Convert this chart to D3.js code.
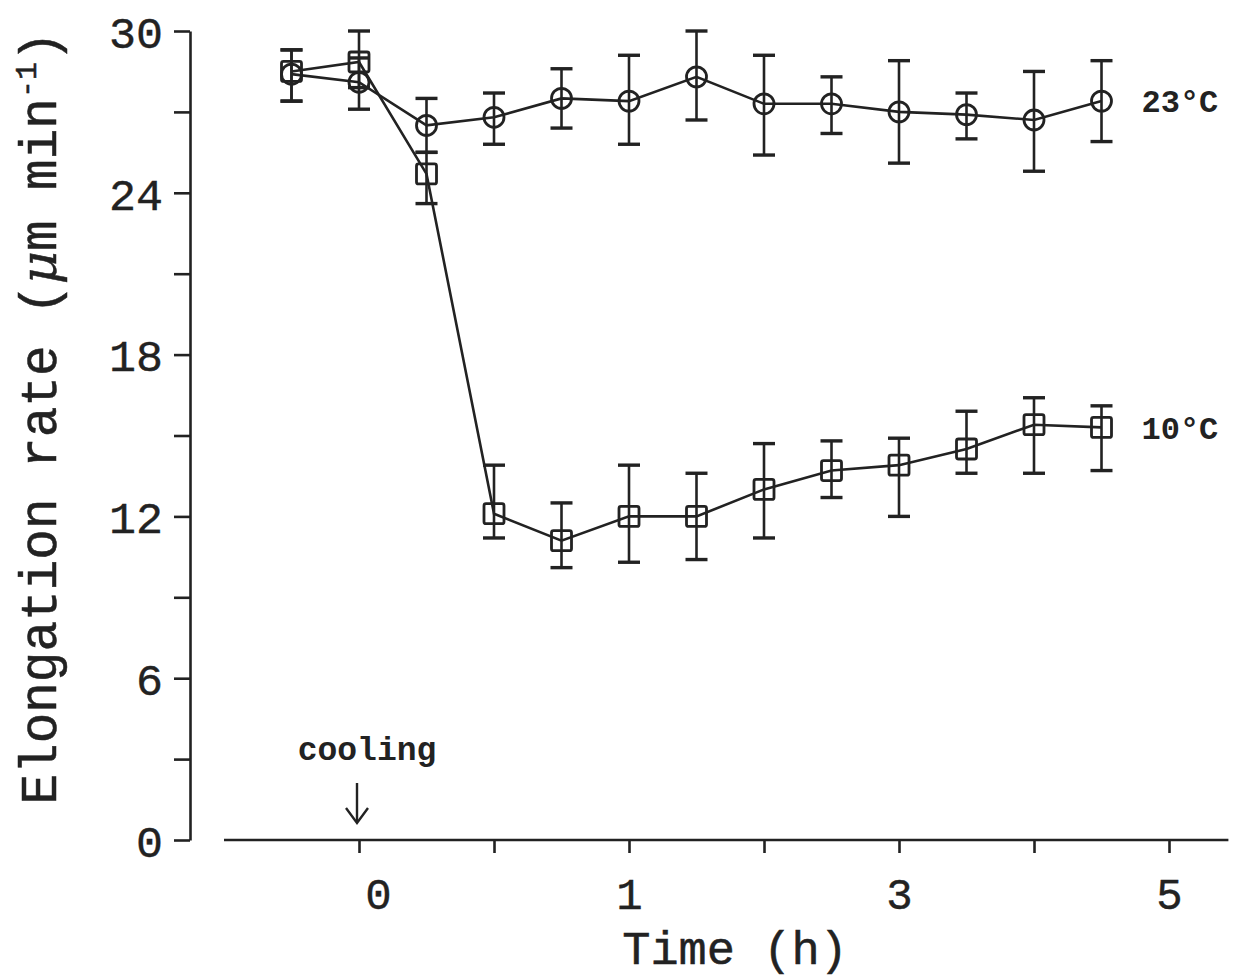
<!DOCTYPE html>
<html>
<head>
<meta charset="utf-8">
<script src="https://cdn.jsdelivr.net/npm/d3@7"></script>
<style>
  body { margin: 0; background: #fff; }
  text { font-family: "Liberation Mono", "Courier New", monospace; fill: #222; }
</style>
</head>
<body>
<svg id="chart" width="1238" height="979"></svg>
<script>
// time in half-hour tick steps (tick 0 = cooling)
const times = [-0.5, 0, 0.5, 1, 1.5, 2, 2.5, 3, 3.5, 4, 4.5, 5, 5.5];

// 23 C control
const warm   = [28.4, 28.1, 26.5, 26.8, 27.5, 27.4, 28.3, 27.3, 27.3, 27.0, 26.9, 26.7, 27.4];
const warmLo = [27.4, 27.1, 25.5, 25.8, 26.4, 25.8, 26.7, 25.4, 26.2, 25.1, 26.0, 24.8, 25.9];
const warmHi = [29.3, 29.0, 27.5, 27.7, 28.6, 29.1, 30.0, 29.1, 28.3, 28.9, 27.7, 28.5, 28.9];

// 10 C cooled
const cold   = [28.5, 28.85, 24.7, 12.1, 11.1, 12.0, 12.0, 13.0, 13.7, 13.9, 14.5, 15.4, 15.3];
const coldLo = [27.4, 27.9, 23.6, 11.2, 10.1, 10.3, 10.4, 11.2, 12.7, 12.0, 13.6, 13.6, 13.7];
const coldHi = [29.3, 30.0, 25.5, 13.9, 12.5, 13.9, 13.6, 14.7, 14.8, 14.9, 15.9, 16.4, 16.1];

const yTicks = [0, 3, 6, 9, 12, 15, 18, 21, 24, 27, 30];
const xTicks = [0, 1, 2, 3, 4, 5, 6];
const xTickLabels = ["0", "", "1", "", "3", "", "5"];

const ink = "#222";
const svg = d3.select("#chart");

const x = d3.scaleLinear().domain([0, 6]).range([359, 1169]);
const y = d3.scaleLinear().domain([0, 30]).range([840, 31]);

// y axis
const yAxis = svg.append("g")
    .attr("transform", "translate(190,0)")
    .call(d3.axisLeft(y).tickValues(yTicks).tickSize(16).tickSizeOuter(0).tickPadding(11)
        .tickFormat(d => d % 6 === 0 ? d : ""));
yAxis.select(".domain").attr("stroke", ink).attr("stroke-width", 2.6);
yAxis.selectAll(".tick line").attr("stroke", ink).attr("stroke-width", 2.6);
yAxis.selectAll(".tick text")
    .attr("font-size", 45).attr("font-family", "Liberation Mono")
    .attr("fill", ink).attr("stroke", ink).attr("stroke-width", 0.4)
    .attr("dy", "0.36em");

// x axis
const xAxis = svg.append("g")
    .attr("transform", "translate(0,840)")
    .call(d3.axisBottom(x).tickValues(xTicks).tickSize(13).tickSizeOuter(0).tickPadding(25)
        .tickFormat((d, i) => xTickLabels[i]));
xAxis.select(".domain").remove();
xAxis.append("line")
    .attr("x1", x(-1)).attr("x2", x(6.44))
    .attr("stroke", ink).attr("stroke-width", 2.6);
xAxis.selectAll(".tick line").attr("stroke", ink).attr("stroke-width", 2.6);
xAxis.selectAll(".tick text")
    .attr("font-size", 44).attr("font-family", "Liberation Mono")
    .attr("fill", ink).attr("stroke", ink).attr("stroke-width", 0.4)
    .attr("dx", (d, i) => i === 0 ? 19 : 0);

// axis titles
svg.append("text")
    .attr("x", 735).attr("y", 964)
    .attr("text-anchor", "middle")
    .attr("font-size", 47)
    .attr("stroke", ink).attr("stroke-width", 0.5)
    .text("Time (h)");

const ytitle = svg.append("text")
    .attr("transform", "translate(56,418) rotate(-90)")
    .attr("text-anchor", "middle")
    .attr("font-size", 51)
    .attr("stroke", ink).attr("stroke-width", 0.5);
ytitle.append("tspan").text("Elongation rate (");
ytitle.append("tspan").attr("font-style", "italic").attr("font-family", "DejaVu Serif").text("μ");
ytitle.append("tspan").text("m min");
ytitle.append("tspan").attr("font-size", 30).attr("dy", -20).text("-1");
ytitle.append("tspan").attr("dy", 20).text(")");

// series
function drawSeries(vals, lo, hi, shape) {
  const rows = times.map((t, i) => ({t, v: vals[i], lo: lo[i], hi: hi[i]}));
  const g = svg.append("g").attr("stroke", ink).attr("fill", "none");

  g.append("path")
      .attr("d", d3.line().x(d => x(d.t)).y(d => y(d.v))(rows))
      .attr("stroke-width", 2.6);

  const eb = g.selectAll(".eb").data(rows).enter().append("g").attr("stroke-width", 2.6);
  eb.append("line").attr("x1", d => x(d.t)).attr("x2", d => x(d.t))
      .attr("y1", d => y(d.lo)).attr("y2", d => y(d.hi));
  eb.append("line").attr("x1", d => x(d.t) - 11).attr("x2", d => x(d.t) + 11)
      .attr("y1", d => y(d.lo)).attr("y2", d => y(d.lo)).attr("stroke-width", 3.4);
  eb.append("line").attr("x1", d => x(d.t) - 11).attr("x2", d => x(d.t) + 11)
      .attr("y1", d => y(d.hi)).attr("y2", d => y(d.hi)).attr("stroke-width", 3.4);

  if (shape === "circle") {
    g.selectAll(".m").data(rows).enter().append("circle")
        .attr("cx", d => x(d.t)).attr("cy", d => y(d.v)).attr("r", 10)
        .attr("stroke-width", 2.8);
  } else {
    g.selectAll(".m").data(rows).enter().append("rect")
        .attr("x", d => x(d.t) - 10).attr("y", d => y(d.v) - 10)
        .attr("width", 20).attr("height", 20).attr("rx", 2)
        .attr("stroke-width", 2.8);
  }
  return rows;
}

const warmRows = drawSeries(warm, warmLo, warmHi, "circle");
const coldRows = drawSeries(cold, coldLo, coldHi, "square");

// series labels
const lastW = warmRows[warmRows.length - 1];
const lastC = coldRows[coldRows.length - 1];
svg.append("text").attr("x", x(lastW.t) + 40).attr("y", y(lastW.v) + 11)
    .attr("font-size", 32).attr("font-weight", "bold").text("23°C");
svg.append("text").attr("x", x(lastC.t) + 40).attr("y", y(lastC.v) + 12)
    .attr("font-size", 32).attr("font-weight", "bold").text("10°C");

// cooling annotation
svg.append("text").attr("x", x(0) + 8).attr("y", 760)
    .attr("text-anchor", "middle")
    .attr("font-size", 33).attr("font-weight", "bold").text("cooling");
const ar = svg.append("g").attr("stroke", ink).attr("stroke-width", 2.4).attr("fill", "none");
ar.append("line").attr("x1", x(0) - 2).attr("x2", x(0) - 2).attr("y1", 783).attr("y2", 822);
ar.append("path").attr("d", `M${x(0) - 13},808 L${x(0) - 2},823 L${x(0) + 9},808`);
</script>
</body>
</html>
